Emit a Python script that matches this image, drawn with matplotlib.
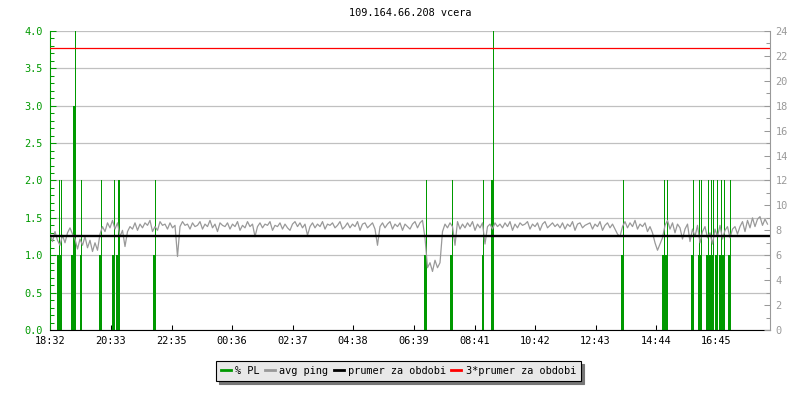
import numpy as np
import matplotlib
matplotlib.use('Agg')
import matplotlib.pyplot as plt
from matplotlib.lines import Line2D
from matplotlib.ticker import MultipleLocator

start = '18:32'
title = '109.164.66.208 vcera'
xtick_labels = ['18:32', '20:33', '22:35', '00:36', '02:37', '04:38',
                '06:39', '08:41', '10:42', '12:43', '14:44', '16:45']

# avg ping [ms], one value every 5 minutes from 18:32
ping = [
    7.7, 7.1, 7.9, 7.2, 6.8, 7.6, 7.0, 7.8, 8.2, 7.7, 7.3, 6.5,
    7.3, 6.8, 7.5, 6.6, 7.2, 6.3, 7.0, 6.4, 7.7, 8.3, 7.9, 8.6,
    8.2, 8.8, 8.1, 8.6, 7.5, 8.0, 6.7, 7.9, 8.3, 8.1, 8.6, 8.0,
    8.5, 8.2, 8.6, 8.4, 8.8, 7.9, 8.3, 8.0, 8.7, 8.4, 8.5, 8.1,
    8.6, 8.2, 8.4, 5.9, 8.3, 8.7, 8.4, 8.5, 8.1, 8.6, 8.3, 8.4,
    8.7, 8.1, 8.5, 8.3, 8.8, 8.2, 8.5, 7.9, 8.6, 8.4, 8.3, 8.6,
    8.1, 8.5, 8.3, 8.7, 8.0, 8.4, 8.2, 8.7, 8.3, 8.5, 7.5, 8.3,
    8.6, 8.2, 8.5, 8.4, 8.7, 8.0, 8.4, 8.3, 8.6, 8.1, 8.5, 8.2,
    8.0, 8.5, 8.7, 8.3, 8.6, 8.2, 8.5, 7.6, 8.3, 8.6, 8.2, 8.5,
    8.3, 8.7, 8.1, 8.5, 8.4, 8.6, 8.2, 8.4, 8.7, 8.1, 8.3, 8.6,
    8.2, 8.5, 8.3, 8.7, 8.0, 8.5, 8.6, 8.2, 8.4, 8.6, 8.1, 6.8,
    8.3, 8.6, 8.2, 8.5, 8.7, 8.1, 8.5, 8.3, 8.6, 8.0, 8.5, 8.3,
    8.1, 8.5, 8.7, 8.2, 8.6, 8.8, 7.4, 5.0, 5.4, 4.7, 5.6, 5.0,
    5.4, 7.9, 8.5, 8.2, 8.6, 8.3, 6.8, 8.7, 8.1, 8.5, 8.2, 8.6,
    8.3, 8.7, 8.0, 8.5, 8.2, 8.6, 6.9, 8.3, 8.5, 8.1, 8.6, 8.3,
    8.5, 8.2, 8.6, 8.3, 8.7, 8.0, 8.5, 8.2, 8.6, 8.4, 8.5, 8.7,
    8.1, 8.5, 8.3, 8.6, 8.0, 8.5, 8.7, 8.2, 8.4, 8.6, 8.3, 8.5,
    8.2, 8.6, 8.1, 8.5, 8.3, 8.7, 8.0, 8.5, 8.6, 8.2, 8.4, 8.5,
    8.6, 8.1, 8.5, 8.3, 8.7, 8.0, 8.4, 8.6, 8.2, 8.5, 8.1, 7.7,
    7.5, 8.3, 8.7, 8.2, 8.6, 8.3, 8.8, 8.1, 8.5, 8.3, 8.6, 7.9,
    8.3, 7.8, 7.0, 6.4, 6.9, 7.4, 8.4, 8.8, 8.1, 8.6, 7.8, 8.5,
    8.2, 7.3, 8.1, 8.5, 7.1, 8.1, 7.5, 8.4, 7.0, 7.9, 8.3, 7.4,
    7.8, 6.9, 8.1, 7.5, 8.4, 7.3, 8.0, 8.3, 7.4, 8.1, 8.3, 7.7,
    8.3, 8.7, 7.9, 8.8, 8.2, 9.0, 8.3, 8.9, 9.1, 8.4, 8.9, 8.5,
]

# packet loss events [%]
pl_times = ['18:49', '18:53', '19:17', '19:21', '19:34', '20:13', '20:39', '20:47',
            '20:50', '22:01', '07:03', '07:55', '08:58', '09:17', '13:37', '14:59',
            '15:05', '15:57', '16:10', '16:14', '16:27', '16:33', '16:37', '16:45',
            '16:53', '16:59', '17:11']
pl_avg = [1, 1, 1, 3, 1, 1, 1, 1, 1, 1, 1, 1, 1, 2, 1, 1, 1, 1, 1, 1, 1, 1, 1, 1, 1, 1, 1]
pl_max = [2, 2, 2, 4, 2, 2, 2, 2, 2, 2, 2, 2, 2, 4, 2, 2, 2, 2, 2, 2, 2, 2, 2, 2, 2, 2, 2]

prumer = 7.55

green = '#009900'
gray = '#999999'


def to_min(s):
    h, m = map(int, s.split(':'))
    h0, m0 = map(int, start.split(':'))
    return ((h * 60 + m) - (h0 * 60 + m0)) % 1440


plt.rcParams['font.family'] = 'DejaVu Sans Mono'
plt.rcParams['font.size'] = 7.4

fig = plt.figure(figsize=(8, 4), dpi=100)
ax = fig.add_axes([0.0625, 0.175, 0.9, 0.7475])
ax2 = ax.twinx()

ax.set_xlim(0, 1440)
ax.set_ylim(0, 4)
ax2.set_ylim(0, 24)

ax.set_axisbelow(True)
ax.grid(axis='y', color='#c0c0c0', lw=0.9)

t_pl = [to_min(s) for s in pl_times]
ax.vlines(t_pl, 0, pl_max, color=green, lw=0.72, antialiased=False)
ax.bar(t_pl, pl_avg, width=4.5, color=green, linewidth=0, antialiased=False)

t_ping = np.arange(len(ping)) * 5
ax2.plot(t_ping, ping, color=gray, lw=0.9)
ax2.axhline(prumer, color='black', lw=1.7)
ax2.axhline(3 * prumer, color='#ff0000', lw=0.9)

for a in (ax, ax2):
    a.spines['top'].set_visible(False)
ax.spines['right'].set_visible(False)
ax2.spines['left'].set_visible(False)
ax2.spines['bottom'].set_visible(False)
ax.spines['left'].set_color(green)
ax2.spines['right'].set_color(gray)
ax.spines['bottom'].set_color('black')
for sp in ('left', 'bottom'):
    ax.spines[sp].set_linewidth(0.8)
ax2.spines['right'].set_linewidth(0.8)

ax.yaxis.set_major_locator(MultipleLocator(0.5))
ax.yaxis.set_minor_locator(MultipleLocator(0.1))
ax2.yaxis.set_major_locator(MultipleLocator(2))
ax2.yaxis.set_minor_locator(MultipleLocator(1))

ax.tick_params(axis='y', which='major', direction='in', length=4.3, width=0.75, colors=green, pad=5)
ax.tick_params(axis='y', which='minor', direction='in', length=2.9, width=0.75, colors=green)
ax2.tick_params(axis='y', which='major', direction='in', length=4.3, width=0.75, colors=gray, pad=4)
ax2.tick_params(axis='y', which='minor', direction='in', length=2.9, width=0.75, colors=gray)

ax.set_xticks([to_min(s) for s in xtick_labels], xtick_labels)
ax.tick_params(axis='x', direction='in', length=3.6, width=0.75, colors='black', pad=4)

fig.text(0.5125, 1 - 13 / 400, title, ha='center', va='center')

handles = [Line2D([], [], color=green, lw=2),
           Line2D([], [], color=gray, lw=2),
           Line2D([], [], color='black', lw=2),
           Line2D([], [], color='#ff0000', lw=2)]
labels = ['% PL', 'avg ping', 'prumer za obdobi', '3*prumer za obdobi']
leg = fig.legend(handles, labels, loc='center', bbox_to_anchor=(0.498, 0.0725), ncol=4,
                 frameon=True, fancybox=False, shadow={'color': '#777777', 'alpha': 1},
                 edgecolor='black', facecolor='#e8e8e8', framealpha=1,
                 handlelength=1.0, handletextpad=0.4, columnspacing=0.5, borderpad=0.5)
leg.get_frame().set_linewidth(0.8)

fig.savefig('out.png', dpi=100)
